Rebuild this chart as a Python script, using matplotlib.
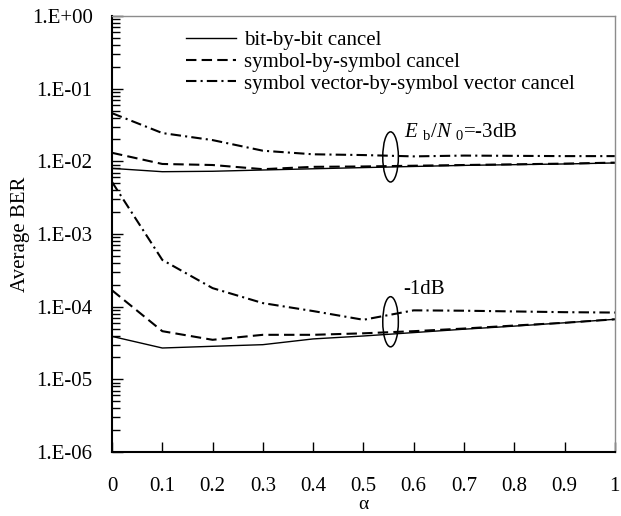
import numpy as np
import matplotlib.pyplot as plt
from matplotlib.patches import Ellipse
from matplotlib.ticker import LogLocator, NullFormatter

plt.rcParams['font.family'] = ['Liberation Serif', 'DejaVu Serif']
plt.rcParams['mathtext.fontset'] = 'custom'
plt.rcParams['mathtext.it'] = 'Liberation Serif:italic'
plt.rcParams['mathtext.rm'] = 'Liberation Serif'

alpha = [0.0, 0.1, 0.2, 0.3, 0.4, 0.5, 0.6, 0.7, 0.8, 0.9, 1.0]

# Eb/N0 = -3 dB
bit_3 = [8.0e-3, 7.2e-3, 7.3e-3, 7.6e-3, 7.9e-3, 8.2e-3, 8.5e-3, 8.8e-3, 9.0e-3, 9.2e-3, 9.5e-3]
sym_3 = [1.31e-2, 9.2e-3, 8.9e-3, 7.8e-3, 8.4e-3, 8.5e-3, 8.7e-3, 8.9e-3, 9.1e-3, 9.3e-3, 9.6e-3]
vec_3 = [4.6e-2, 2.45e-2, 1.96e-2, 1.4e-2, 1.25e-2, 1.22e-2, 1.17e-2, 1.2e-2, 1.19e-2, 1.18e-2, 1.18e-2]

# Eb/N0 = -1 dB
bit_1 = [3.9e-5, 2.7e-5, 2.85e-5, 3.0e-5, 3.6e-5, 3.95e-5, 4.4e-5, 4.9e-5, 5.4e-5, 6.0e-5, 6.7e-5]
sym_1 = [1.68e-4, 4.6e-5, 3.5e-5, 4.1e-5, 4.1e-5, 4.3e-5, 4.6e-5, 5.0e-5, 5.5e-5, 6.0e-5, 6.7e-5]
vec_1 = [5.2e-3, 4.4e-4, 1.8e-4, 1.12e-4, 8.7e-5, 6.6e-5, 8.9e-5, 8.8e-5, 8.6e-5, 8.4e-5, 8.3e-5]

labels = ['bit-by-bit cancel', 'symbol-by-symbol cancel',
          'symbol vector-by-symbol vector cancel']
ytick_vals = [1e-6, 1e-5, 1e-4, 1e-3, 1e-2, 1e-1, 1e0]
ytick_labels = ['1.E-06', '1.E-05', '1.E-04', '1.E-03', '1.E-02', '1.E-01', '1.E+00']
xtick_vals = [0, 0.1, 0.2, 0.3, 0.4, 0.5, 0.6, 0.7, 0.8, 0.9, 1]
xtick_labels = ['0', '0.1', '0.2', '0.3', '0.4', '0.5', '0.6', '0.7', '0.8', '0.9', '1']

fig = plt.figure(figsize=(6.21, 5.16), dpi=100, facecolor='white')
ax = fig.add_axes([0.1804, 0.124, 0.8096, 0.845])

solid = dict(color='black', lw=1.0, ls='-')
dashed = dict(color='black', lw=1.5, ls=(0, (5, 2.5)))
dashdot = dict(color='black', lw=1.5, ls=(0, (5, 2, 1, 2)))

l1, = ax.plot(alpha, bit_3, **solid)
l2, = ax.plot(alpha, sym_3, **dashed)
l3, = ax.plot(alpha, vec_3, **dashdot)
ax.plot(alpha, bit_1, **solid)
ax.plot(alpha, sym_1, **dashed)
ax.plot(alpha, vec_1, **dashdot)

ax.set_yscale('log')
ax.set_xlim(0, 1)
ax.set_ylim(1e-6, 1)
ax.set_yticks(ytick_vals)
ax.set_yticklabels(ytick_labels)
ax.yaxis.set_minor_locator(LogLocator(base=10, subs=np.arange(2, 10), numticks=20))
ax.yaxis.set_minor_formatter(NullFormatter())
ax.set_xticks(xtick_vals)
ax.set_xticklabels(xtick_labels)

ax.tick_params(axis='y', which='major', direction='in', length=8, width=1,
               labelsize=15, pad=14, right=False)
ax.tick_params(axis='y', which='minor', direction='in', length=6, width=1, right=False)
ax.tick_params(axis='x', which='major', direction='in', length=7, width=1,
               labelsize=15, pad=18, top=False)

for s in ['left', 'bottom']:
    ax.spines[s].set_linewidth(1.5)
    ax.spines[s].set_color('black')
for s in ['top', 'right']:
    ax.spines[s].set_linewidth(1.0)
    ax.spines[s].set_color('#8c8c8c')

ax.set_ylabel('Average BER', fontsize=15)
ax.yaxis.set_label_coords(-0.163, 0.5)
ax.set_xlabel('α', fontsize=14)
ax.xaxis.set_label_coords(0.5, -0.1)

ax.legend([l1, l2, l3], labels, loc='upper left', bbox_to_anchor=(0.13, 0.985),
          frameon=False, fontsize=15, handlelength=2.4, handletextpad=0.4,
          labelspacing=0.1, borderaxespad=0)

# grouping ellipses around each Eb/N0 family
to_axes = ax.transData + ax.transAxes.inverted()
for cy in [1.15e-2, 6.2e-5]:
    cx_ax, cy_ax = to_axes.transform((0.554, cy))
    ax.add_patch(Ellipse((cx_ax, cy_ax), width=0.031, height=0.115,
                         transform=ax.transAxes, fill=False, lw=1.1,
                         color='black'))

ax.text(0.58, 2.6e-2, r'$E$ $_{\rm b}$/$N$ $_0$=-3dB', fontsize=15, va='center', ha='left')
ax.text(0.58, 1.74e-4, '-1dB', fontsize=15, va='center', ha='left')

fig.savefig('out.png', dpi=100, facecolor='white')
